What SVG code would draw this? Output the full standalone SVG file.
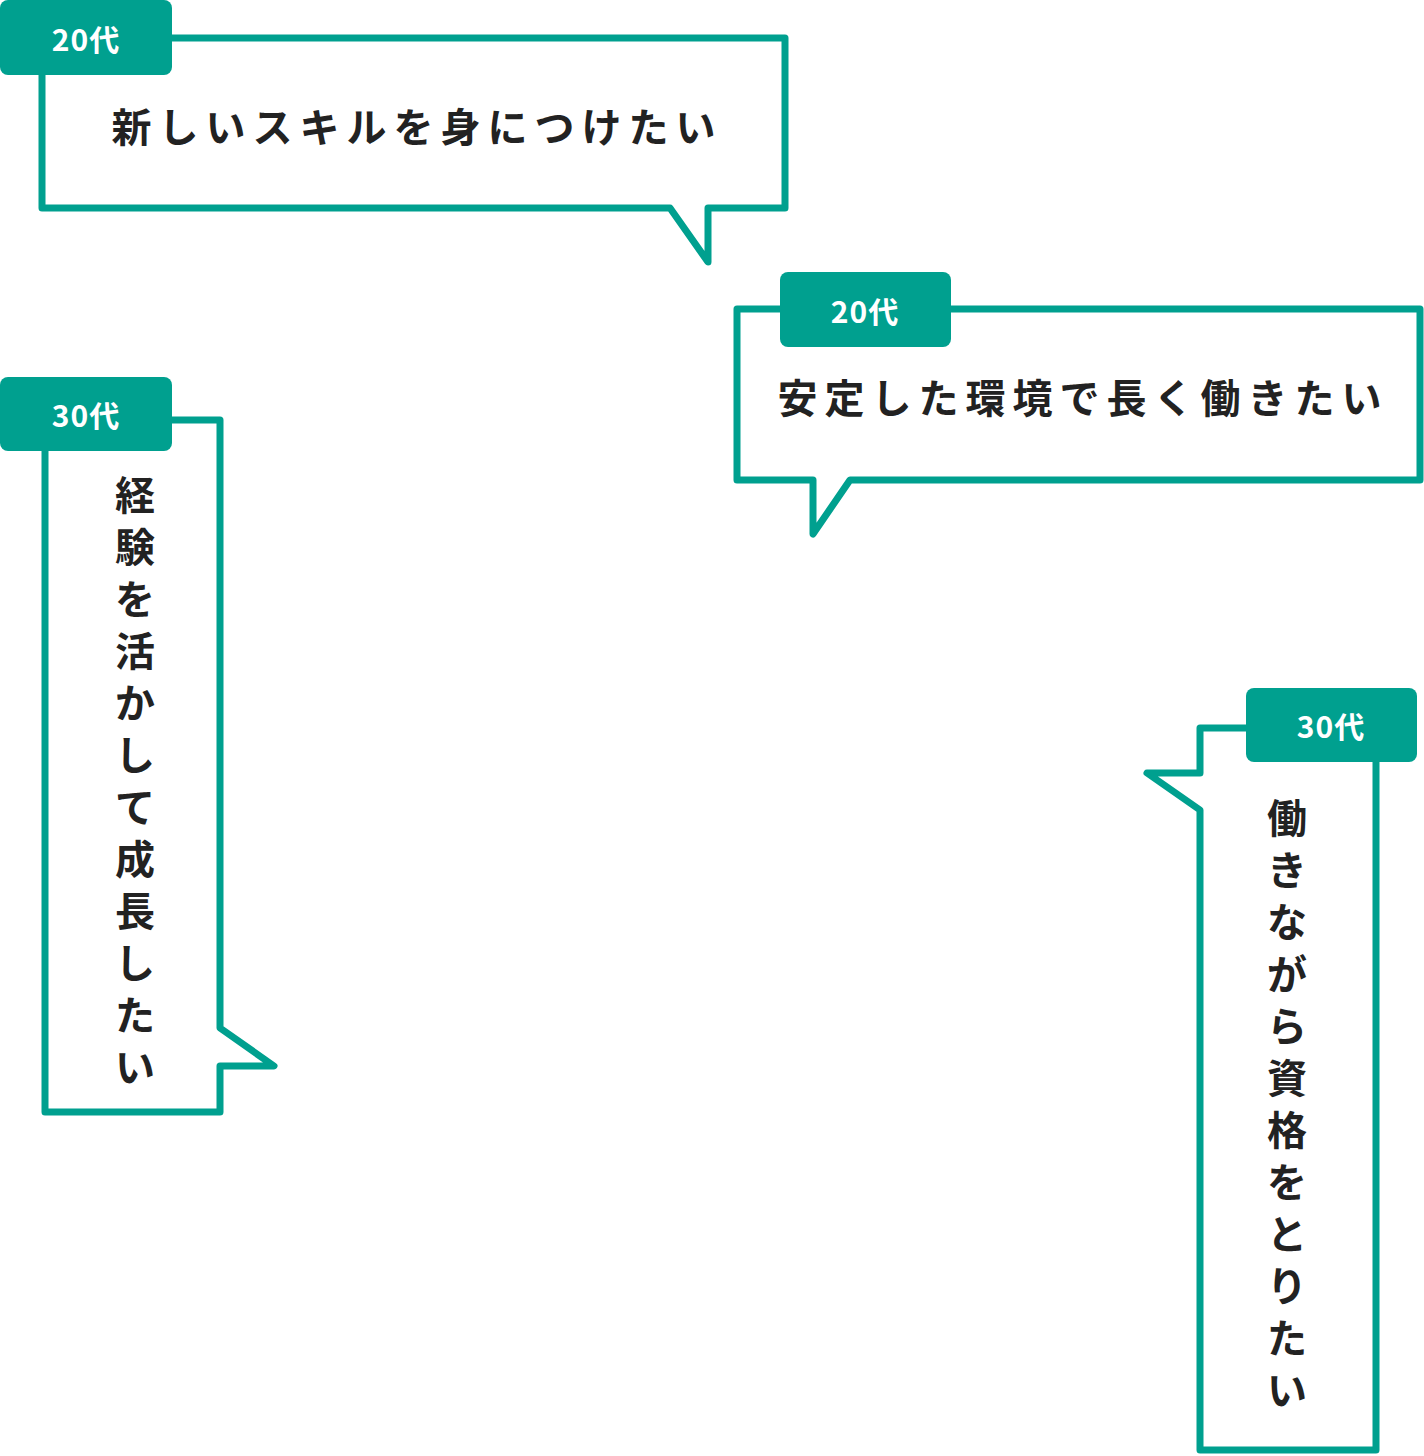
<svg xmlns="http://www.w3.org/2000/svg" width="1424" height="1456" viewBox="0 0 1424 1456">
<style>
.b{fill:#fff;stroke:#00a08f;stroke-width:7;stroke-linejoin:round}
.tag{fill:#00a08f}
.tt{fill:#fff;font-family:"Noto Sans CJK JP","Noto Sans",sans-serif;font-weight:700;font-size:30px;text-anchor:middle;letter-spacing:1px}
.m{fill:#222;font-family:"Noto Sans CJK JP",sans-serif;font-weight:700;font-size:40px;text-anchor:middle;letter-spacing:7px}
.v{fill:#222;font-family:"Noto Sans CJK JP",sans-serif;font-weight:700;font-size:40px;text-anchor:middle}
</style>
<g id="bubble1">
<path class="b" d="M42,38 H785 V208 H708 V262 L670,208 H42 Z"/>
<rect class="tag" x="0" y="0" width="172" height="75" rx="8"/>
<text class="tt" x="86" y="51">20代</text>
<text class="m" x="417" y="142">新しいスキルを身につけたい</text>
</g>
<g id="bubble2">
<path class="b" d="M737,309 H1420 V480 H850 L813,534 V480 H737 Z"/>
<rect class="tag" x="780" y="272" width="171" height="75" rx="8"/>
<text class="tt" x="865" y="323">20代</text>
<text class="m" x="1083" y="413">安定した環境で長く働きたい</text>
</g>
<g id="bubble3">
<path class="b" d="M45,420 H220 V1028 L274,1066 H220 V1112 H45 Z"/>
<rect class="tag" x="0" y="377" width="172" height="74" rx="8"/>
<text class="tt" x="86" y="427">30代</text>
<g class="v">
<text x="135" y="510">経</text><text x="135" y="562">験</text><text x="135" y="614">を</text><text x="135" y="666">活</text><text x="135" y="718">か</text><text x="135" y="770">し</text><text x="135" y="822">て</text><text x="135" y="874">成</text><text x="135" y="926">長</text><text x="135" y="978">し</text><text x="135" y="1030">た</text><text x="135" y="1082">い</text>
</g>
</g>
<g id="bubble4">
<path class="b" d="M1200,728 H1376 V1450 H1200 V810 L1147,773 H1200 Z"/>
<rect class="tag" x="1246" y="688" width="171" height="74" rx="8"/>
<text class="tt" x="1331" y="738">30代</text>
<g class="v">
<text x="1287" y="833">働</text><text x="1287" y="885">き</text><text x="1287" y="937">な</text><text x="1287" y="989">が</text><text x="1287" y="1041">ら</text><text x="1287" y="1093">資</text><text x="1287" y="1145">格</text><text x="1287" y="1197">を</text><text x="1287" y="1249">と</text><text x="1287" y="1301">り</text><text x="1287" y="1353">た</text><text x="1287" y="1405">い</text>
</g>
</g>
<g id="connectors"></g>
</svg>
